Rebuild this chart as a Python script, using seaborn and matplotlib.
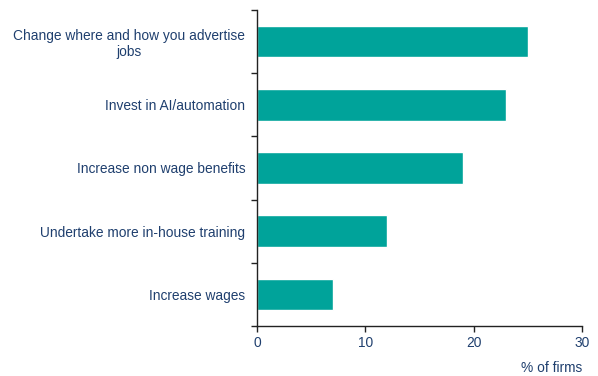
import matplotlib
matplotlib.use("Agg")
import matplotlib.pyplot as plt
from matplotlib.ticker import FixedLocator
import seaborn as sns
import pandas as pd

categories = [
    "Change where and how you advertise\njobs",
    "Invest in AI/automation",
    "Increase non wage benefits",
    "Undertake more in-house training",
    "Increase wages",
]
values = [25, 23, 19, 12, 7]
x_ticks = [0, 10, 20, 30]

bar_color = "#00A39A"
text_color = "#1F3F6E"
axis_color = "#222222"

sns.set_theme(style="white")
plt.rcParams["font.family"] = ["Liberation Sans", "DejaVu Sans"]

df = pd.DataFrame({"action": categories, "share": values})

fig = plt.figure(figsize=(5.98, 3.76), dpi=100)
ax = fig.add_axes([257 / 598, 1 - 326 / 376, (582 - 257) / 598, (326 - 10) / 376])

sns.barplot(data=df, x="share", y="action", orient="h", color=bar_color,
            saturation=1, width=0.5, ax=ax)

ax.set_xlim(0, 30)
ax.set_ylim(len(categories) - 0.5, -0.5)
ax.set_xticks(x_ticks)
ax.set_xticklabels([str(t) for t in x_ticks])

# tick marks sit at category boundaries, labels at category centres
ax.yaxis.set_minor_locator(FixedLocator([i - 0.5 for i in range(len(categories) + 1)]))
ax.tick_params(axis="y", which="major", length=0, pad=8.5, labelsize=9.9,
               labelcolor=text_color)
ax.tick_params(axis="y", which="minor", left=True, length=4, width=1,
               color=axis_color, direction="out")
ax.tick_params(axis="x", which="major", bottom=True, length=4, width=1,
               color=axis_color, direction="out", pad=3, labelsize=9.9,
               labelcolor=text_color)
for lbl in ax.get_yticklabels():
    lbl.set_horizontalalignment("right")
    lbl.set_multialignment("center")

ax.set_ylabel("")
ax.set_xlabel("% of firms", color=text_color, fontsize=9.9)
ax.xaxis.set_label_coords(1.0, -0.11)
ax.xaxis.label.set_horizontalalignment("right")

for side in ["top", "right"]:
    ax.spines[side].set_visible(False)
for side in ["left", "bottom"]:
    ax.spines[side].set_color(axis_color)
    ax.spines[side].set_linewidth(1)

fig.savefig("out.png", dpi=100, facecolor="white")
